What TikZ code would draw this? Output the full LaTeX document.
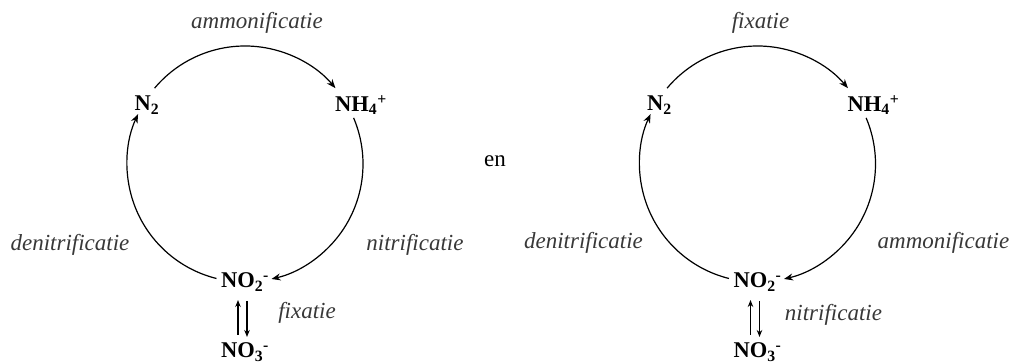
\documentclass[tikz,border=0pt]{standalone}
\usepackage{fontspec}
\setmainfont{Liberation Serif}
\usetikzlibrary{arrows.meta,calc}
\definecolor{lbl}{gray}{0.22}
\tikzset{
  chem/.style={font=\fontsize{22.5}{26}\selectfont\bfseries, inner sep=0pt},
  proc/.style={font=\fontsize{23}{26}\selectfont\itshape, text=lbl, inner sep=0pt},
  plain/.style={font=\fontsize{23}{26}\selectfont, inner sep=0pt},
  flow/.style={line width=1.2pt, -{Stealth[length=9pt,width=7pt]}},
  vflow/.style={line width=1.2pt, -{Stealth[length=7pt,width=5.5pt]}}
}
\newcommand{\cycle}[4]{%
  \coordinate (c) at (245,199);
  \node[chem] (n2) at (147,258) {N\textsubscript{2}};
  \node[chem] (nh4) at (361,258) {NH\textsubscript{4}\textsuperscript{+}};
  \node[chem] (no2) at (245,81) {NO\textsubscript{2}\textsuperscript{-}};
  \node[chem] (no3) at (245,11) {NO\textsubscript{3}\textsuperscript{-}};
  \coordinate (a1) at ($(c)+(140:118)$);
  \coordinate (a2) at ($(c)+(23:118)$);
  \coordinate (a3) at ($(c)+(256:118)$);
  \draw[flow] (a1) arc[start angle=140, end angle=40, radius=118];
  \draw[flow] (a2) arc[start angle=23, end angle=-77, radius=118];
  \draw[flow] (a3) arc[start angle=256, end angle=155, radius=118];
  \coordinate (u1) at (238,28);
  \coordinate (u2) at (238,63);
  \coordinate (d1) at (247,62);
  \coordinate (d2) at (247,26);
  \draw[vflow] (u1) -- (u2);
  \draw[vflow] (d1) -- (d2);
  #1 #2 #3 #4
}
\begin{document}
\begin{tikzpicture}[x=1pt,y=1pt]
\useasboundingbox (0,0) rectangle (1015,363);
\begin{scope}
\cycle{\node[proc] (t1) at (257,340) {ammonificatie};}
      {\node[proc] (l1) at (70,118) {denitrificatie};}
      {\node[proc] (r1) at (415,118) {nitrificatie};}
      {\node[proc] (b1) at (307,50) {fixatie};}
\end{scope}
\node[plain] (en) at (495,202) {en};
\begin{scope}[xshift=512.5pt]
\cycle{\node[proc] (t2) at (248,340) {fixatie};}
      {\node[proc] (l2) at (71,120) {denitrificatie};}
      {\node[proc] (r2) at (431,120) {ammonificatie};}
      {\node[proc] (b2) at (321,48) {nitrificatie};}
\end{scope}
\end{tikzpicture}
\end{document}
